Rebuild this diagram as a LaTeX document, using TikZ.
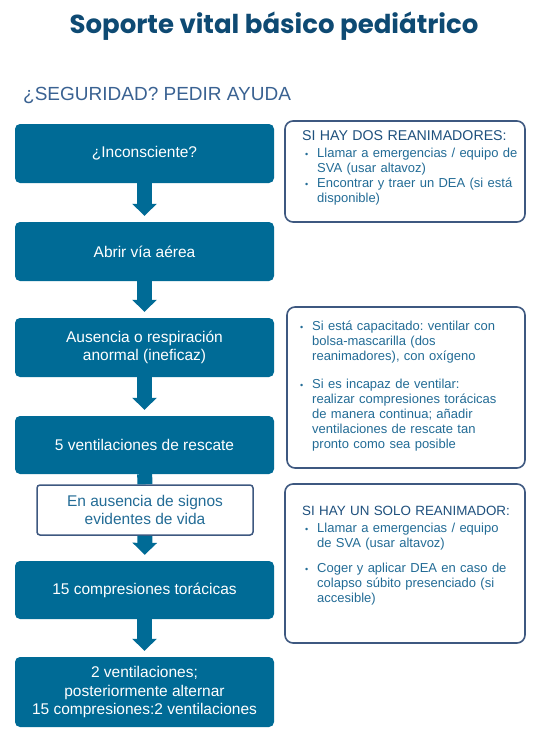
\documentclass[tikz,border=0pt]{standalone}
\usepackage{fontspec}
\setmainfont{Liberation Sans}
\newfontfamily\titlefont{Poppins}
\usetikzlibrary{arrows.meta,positioning}
\definecolor{svbfill}{RGB}{0,107,150}
\definecolor{svbtitle}{RGB}{14,74,115}
\definecolor{svbsub}{RGB}{58,98,146}
\definecolor{svbframe}{RGB}{62,88,128}
\definecolor{svbhead}{RGB}{30,80,125}
\definecolor{svbtext}{RGB}{35,108,150}
\frenchspacing
\newcommand{\bulletdot}{{\fontsize{9}{9}\selectfont •}}
\newcommand{\bul}[1]{\noindent\hangindent=15pt\hangafter=1\makebox[15pt][l]{\hspace{3pt}\bulletdot}#1\par}
\tikzset{
    stepbox/.style={rectangle, rounded corners=5pt, fill=svbfill, text=white, minimum width=259pt, minimum height=59pt, align=center, inner sep=2pt, font=\fontsize{15.5}{18.5}\selectfont},
    infobox/.style={rectangle, rounded corners=8pt, draw=svbframe, line width=1.6pt, minimum width=240pt, inner sep=0pt},
}

\begin{document}
\begin{tikzpicture}[x=1pt,y=-1pt,
    flow/.style={-{Triangle[width=24pt,length=12pt]}, line width=15pt, draw=svbfill, shorten >=6pt},
    infotext/.style={anchor=base west, inner sep=0pt, text width=222pt, text=svbtext, font=\fontsize{13}{15}\selectfont}]
    \useasboundingbox[fill=white] (0,0) rectangle (548,742);

    \node[anchor=base, text=svbtitle, font=\titlefont\bfseries\fontsize{26}{30}\selectfont] (title) at (274,33) {Soporte vital básico pediátrico};
    \node[anchor=base west, inner sep=0pt, text=svbsub, font=\fontsize{19}{22}\selectfont] (safety) at (23,100) {¿SEGURIDAD? PEDIR AYUDA};

    % left column
    \node[stepbox] (b1) at (144.5,153.5) {¿Inconsciente?};
    \node[stepbox] (b2) at (144.5,251.5) {Abrir vía aérea};
    \node[stepbox] (b3) at (144.5,347.5) {Ausencia o respiración\\anormal (ineficaz)};
    \node[stepbox, minimum height=58pt] (b4) at (144.5,445) {5 ventilaciones de rescate};
    \node[stepbox, fill=white, draw=svbframe, line width=1.5pt, text=svbtext, rounded corners=3pt, minimum width=216pt, minimum height=50pt, font=\fontsize{15.5}{17.5}\selectfont] (b5) at (145,510) {En ausencia de signos\\evidentes de vida};
    \node[stepbox, minimum height=58pt] (b6) at (144.5,590) {15 compresiones torácicas};
    \node[stepbox, minimum height=70pt] (b7) at (144.5,692) {2 ventilaciones;\\posteriormente alternar\\15 compresiones:2 ventilaciones};

    \draw[flow] (b1) -- (b2);
    \draw[flow] (b2) -- (b3);
    \draw[flow] (b3) -- (b4);
    \draw[line width=15pt, svbfill] (b4) -- (b5);
    \draw[flow] (b5) -- (b6);
    \draw[flow] (b6) -- (b7);

    % right column
    \node[infobox, minimum height=101pt] (r1) at (405,171.5) {};
    \node[infobox, minimum width=238pt, minimum height=161pt] (r2) at (406,387.5) {};
    \node[infobox, minimum height=159pt] (r3) at (405,563.5) {};

    \node[infotext] (t1) at (302,140) {{\color{svbhead}\fontsize{14.2}{15}\selectfont SI HAY DOS REANIMADORES:}\par\vspace{2pt}
        \bul{Llamar a emergencias / equipo de\newline SVA (usar altavoz)}
        \bul{Encontrar y traer un DEA (si está\newline disponible)}};
    \node[infotext] (t2) at (297,330) {\bul{Si está capacitado: ventilar con\newline bolsa-mascarilla (dos\newline reanimadores), con oxígeno}\vspace{13pt}
        \bul{Si es incapaz de ventilar:\newline realizar compresiones torácicas\newline de manera continua; añadir\newline ventilaciones de rescate tan\newline pronto como sea posible}};
    \node[infotext] (t3) at (302,515) {{\color{svbhead}\fontsize{13.4}{15}\selectfont SI HAY UN SOLO REANIMADOR:}\par\vspace{2pt}
        \bul{Llamar a emergencias / equipo\newline de SVA (usar altavoz)}\vspace{10pt}
        \bul{Coger y aplicar DEA en caso de\newline colapso súbito presenciado (si\newline accesible)}};
\end{tikzpicture}
\end{document}
